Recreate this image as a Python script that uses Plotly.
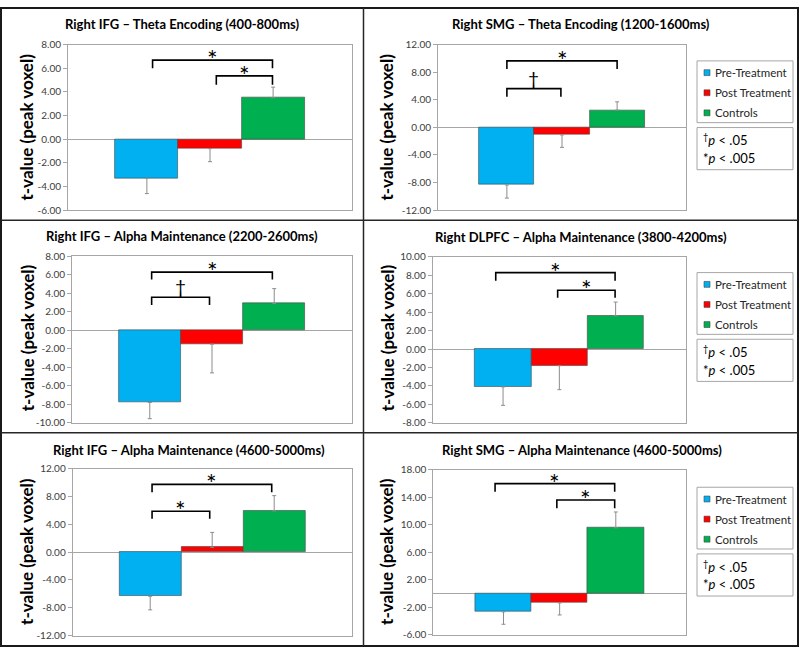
import plotly.graph_objects as go

W, H = 800, 653

# ---------------- data ----------------
series_names = ["Pre-Treatment", "Post Treatment", "Controls"]
series_colors = ["#00B0F0", "#FF0000", "#00B050"]

panel_titles = [
    "Right IFG – Theta Encoding (400-800ms)",
    "Right SMG – Theta Encoding (1200-1600ms)",
    "Right IFG – Alpha Maintenance (2200-2600ms)",
    "Right DLPFC – Alpha Maintenance (3800-4200ms)",
    "Right IFG – Alpha Maintenance (4600-5000ms)",
    "Right SMG – Alpha Maintenance (4600-5000ms)",
]

# t-values (peak voxel) per panel: [Pre, Post, Controls]
t_ifg_theta = [-3.3, -0.8, 3.5]
t_smg_theta = [-8.35, -1.1, 2.5]
t_ifg_alpha_2200 = [-7.8, -1.5, 2.9]
t_dlpfc_alpha = [-4.1, -1.8, 3.6]
t_ifg_alpha_4600 = [-6.35, 0.7, 5.95]
t_smg_alpha_4600 = [-2.65, -1.35, 9.55]

# error bar lengths
e_ifg_theta = [1.3, 1.1, 0.9]
e_smg_theta = [1.9, 1.8, 1.2]
e_ifg_alpha_2200 = [1.75, 3.1, 1.6]
e_dlpfc_alpha = [2.0, 2.6, 1.5]
e_ifg_alpha_4600 = [1.95, 2.15, 2.2]
e_smg_alpha_4600 = [1.8, 1.75, 2.3]

t_values = [t_ifg_theta, t_smg_theta, t_ifg_alpha_2200,
            t_dlpfc_alpha, t_ifg_alpha_4600, t_smg_alpha_4600]
t_errors = [e_ifg_theta, e_smg_theta, e_ifg_alpha_2200,
            e_dlpfc_alpha, e_ifg_alpha_4600, e_smg_alpha_4600]

y_tickvals = [
    [8, 6, 4, 2, 0, -2, -4, -6],
    [12, 8, 4, 0, -4, -8, -12],
    [8, 6, 4, 2, 0, -2, -4, -6, -8, -10],
    [10, 8, 6, 4, 2, 0, -2, -4, -6, -8],
    [12, 8, 4, 0, -4, -8, -12],
    [18, 14, 10, 6, 2, -2, -6],
]
y_ticktext = [["%.2f" % v for v in tv] for tv in y_tickvals]

y_title = "t-value (peak voxel)"

# significance comparisons: (from group idx, to group idx, bracket level, drop, label)
sig_marks = [
    [(0.09, 1.99, 6.68, 6.0, "*"), (1.1, 1.99, 5.35, 4.6, "*")],
    [(0.0, 2.0, 9.63, 8.45, "*"), (0.0, 0.98, 5.61, 4.42, "†")],
    [(0.03, 1.97, 6.28, 5.48, "*"), (0.03, 0.96, 3.57, 2.72, "†")],
    [(-0.13, 1.99, 8.3, 7.42, "*"), (0.97, 1.99, 6.39, 5.57, "*")],
    [(0.03, 1.96, 9.77, 8.64, "*"), (0.03, 0.96, 5.9, 4.83, "*")],
    [(-0.15, 1.98, 15.96, 14.77, "*"), (0.95, 1.98, 13.58, 12.4, "*")],
]

p_legend_lines = ["<sup>†</sup><i>p</i> < .05", "*<i>p</i> < .005"]

# ---------------- layout (pixels) ----------------
panel_px = [
    (68, 352, 38.3, 207.3),
    (438, 686, 38.3, 207.3),
    (72, 352, 254.3, 424.3),
    (432.7, 686, 255, 424.3),
    (72.7, 351.7, 471.3, 641.3),
    (433.3, 686, 472, 640.7),
]
y_ranges = [(-6, 8), (-12, 12), (-10, 8), (-8, 10), (-12, 12), (-6, 18)]
title_pos = [(182, 17), (580.5, 17.3), (181.7, 234), (581, 235), (189, 452), (581.7, 452)]
ytitle_y = [123, 338, 556]
ytitle_x = [27, 387]
legend_top = [55, 271, 490]

FONT = "Lato"
AX_GRAY = "#a6a6a6"


def px(x):
    return x / W


def py(y):
    return 1 - y / H


fig = go.Figure()
shapes = []
annotations = []

for i in range(6):
    ax = "" if i == 0 else str(i + 1)
    xr, yr = "x" + ax, "y" + ax
    for k in range(3):
        v = t_values[i][k]
        e = t_errors[i][k]
        fig.add_trace(go.Bar(
            x=[series_names[k]], y=[v], name=series_names[k],
            xaxis=xr, yaxis=yr, showlegend=False,
            marker=dict(color=series_colors[k], line=dict(color="rgba(70,70,70,0.75)", width=0.8)),
            error_y=dict(type="data", symmetric=False,
                         array=[e if v >= 0 else 0], arrayminus=[e if v < 0 else 0],
                         color="#8c8c8c", thickness=1, width=2),
        ))
    x0, x1, y0, y1 = panel_px[i]
    fig.layout["xaxis" + ax] = dict(
        domain=[px(x0), px(x1)], anchor=yr, type="category",
        categoryorder="array", categoryarray=series_names,
        range=[-1.25, 3.25], showticklabels=False, ticks="",
        showline=True, linecolor=AX_GRAY, linewidth=1, mirror=True,
        showgrid=False, zeroline=False, fixedrange=True,
    )
    fig.layout["yaxis" + ax] = dict(
        domain=[py(y1), py(y0)], anchor=xr, range=list(y_ranges[i]),
        tickmode="array", tickvals=y_tickvals[i], ticktext=y_ticktext[i],
        ticks="outside", ticklen=4, tickcolor=AX_GRAY,
        tickfont=dict(family=FONT, size=10, color="#404040"),
        showline=True, linecolor=AX_GRAY, linewidth=1, mirror=True,
        showgrid=False, zeroline=True, zerolinecolor=AX_GRAY, zerolinewidth=1,
        fixedrange=True,
    )
    # brackets
    for (a, b, top, end, lab) in sig_marks[i]:
        shapes.append(dict(type="path", xref=xr, yref=yr,
                           path=f"M {a},{end} L {a},{top} L {b},{top} L {b},{end}",
                           line=dict(color="black", width=1.6)))
        if lab == "*":
            annotations.append(dict(x=(a + b) / 2, y=top, xref=xr, yref=yr, text=lab,
                                    showarrow=False, yanchor="middle", xanchor="center",
                                    yshift=1,
                                    font=dict(family=FONT, size=25, color="black")))
        else:
            annotations.append(dict(x=(a + b) / 2, y=top, xref=xr, yref=yr, text=lab,
                                    showarrow=False, yanchor="bottom", xanchor="center",
                                    yshift=-3,
                                    font=dict(family=FONT, size=19, color="black")))
    # panel title
    tx, ty = title_pos[i]
    annotations.append(dict(x=px(tx), y=py(ty), xref="paper", yref="paper",
                            text="<b>" + panel_titles[i] + "</b>", showarrow=False,
                            xanchor="center", yanchor="middle",
                            font=dict(family=FONT, size=13, color="black")))

# y-axis titles
for r in range(3):
    for c in range(2):
        annotations.append(dict(x=px(ytitle_x[c]), y=py(ytitle_y[r]), xref="paper", yref="paper",
                                text="<b>" + y_title + "</b>", textangle=-90, showarrow=False,
                                xanchor="center", yanchor="middle",
                                font=dict(family=FONT, size=17, color="black")))

# legends (right column)
LX0, LX1 = 697, 793
for r in range(3):
    top = legend_top[r]
    shapes.append(dict(type="rect", xref="paper", yref="paper",
                       x0=px(LX0), x1=px(LX1), y0=py(top), y1=py(top + 63),
                       line=dict(color=AX_GRAY, width=1), fillcolor="white"))
    for k in range(3):
        cy = top + 12 + k * 20.5
        shapes.append(dict(type="rect", xref="paper", yref="paper",
                           x0=px(704), x1=px(710), y0=py(cy - 3), y1=py(cy + 3),
                           line=dict(color="rgba(70,70,70,0.75)", width=0.8),
                           fillcolor=series_colors[k]))
        annotations.append(dict(x=px(712.5), y=py(cy), xref="paper", yref="paper",
                                text=series_names[k], showarrow=False,
                                xanchor="left", yanchor="middle",
                                font=dict(family=FONT, size=11.5, color="#262626")))
    ptop = top + 68
    shapes.append(dict(type="rect", xref="paper", yref="paper",
                       x0=px(LX0), x1=px(LX1), y0=py(ptop), y1=py(ptop + 43),
                       line=dict(color=AX_GRAY, width=1), fillcolor="white"))
    for k, line in enumerate(p_legend_lines):
        annotations.append(dict(x=px(701), y=py(ptop + 12.5 + k * 18.5), xref="paper", yref="paper",
                                text=line, showarrow=False, xanchor="left", yanchor="middle",
                                font=dict(family=FONT, size=13, color="black")))

# outer frame and dividers
frame = dict(color="#1a1a1a", width=2)
div = dict(color="#262626", width=1.5)
shapes.append(dict(type="rect", xref="paper", yref="paper",
                   x0=px(1), x1=px(798), y0=py(652), y1=py(1), line=frame))
shapes.append(dict(type="line", xref="paper", yref="paper",
                   x0=px(363.5), x1=px(363.5), y0=py(652), y1=py(1), line=div))
for yy in (217.5, 434.5):
    shapes.append(dict(type="line", xref="paper", yref="paper",
                       x0=px(1), x1=px(798), y0=py(yy), y1=py(yy), line=div))

fig.update_layout(
    width=W, height=H, autosize=False,
    margin=dict(l=0, r=0, t=0, b=0),
    paper_bgcolor="white", plot_bgcolor="white",
    barmode="overlay", bargap=0,
    shapes=shapes, annotations=annotations,
    font=dict(family=FONT),
    showlegend=False,
)

fig.write_html(
    "out.html",
    config={"displayModeBar": False},
    post_script="document.body.style.margin='0';document.body.style.padding='0';"
                "document.body.style.overflow='hidden';",
)
